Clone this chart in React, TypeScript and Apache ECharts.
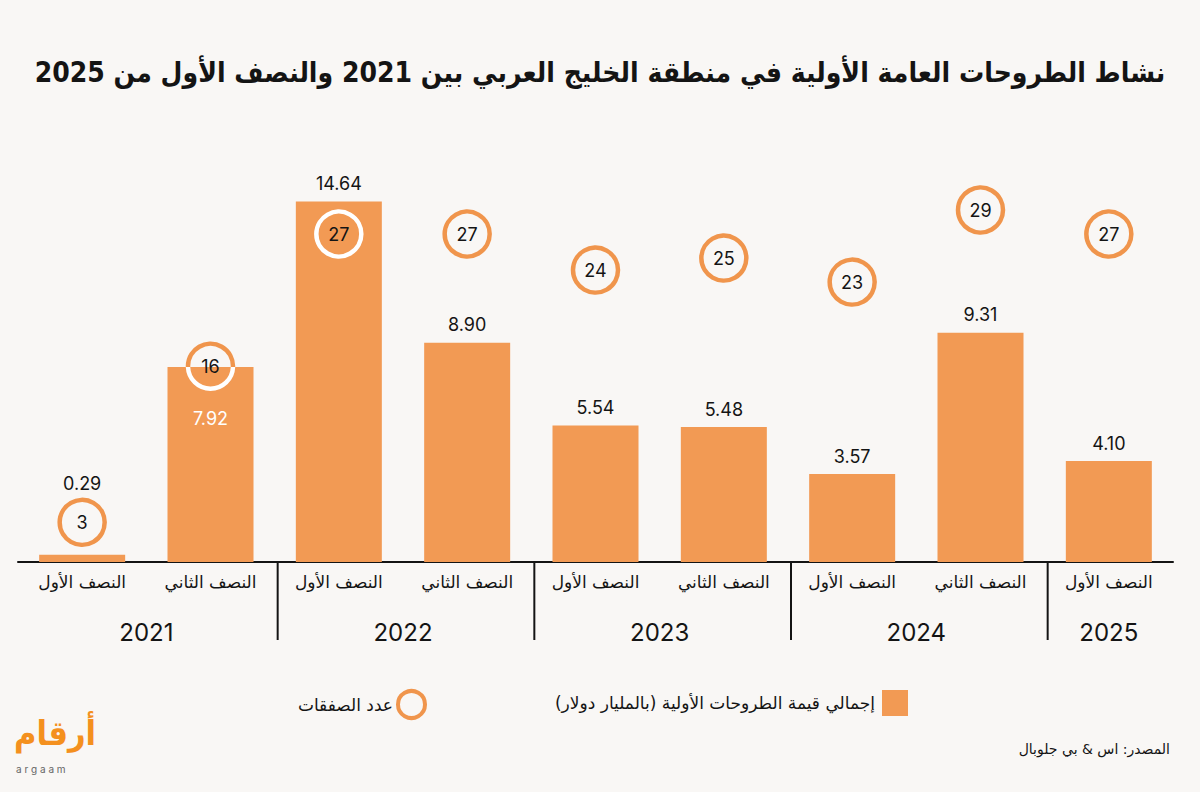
import React, { useEffect, useRef } from "react";
import * as echarts from "echarts";

const categories = ["2021-H1", "2021-H2", "2022-H1", "2022-H2", "2023-H1", "2023-H2", "2024-H1", "2024-H2", "2025-H1"];
const halfLabels = ["النصف الأول", "النصف الثاني", "النصف الأول", "النصف الثاني", "النصف الأول", "النصف الثاني", "النصف الأول", "النصف الثاني", "النصف الأول"];
const ipoValues = [0.29, 7.92, 14.64, 8.9, 5.54, 5.48, 3.57, 9.31, 4.1];
const dealCounts = [3, 16, 27, 27, 24, 25, 23, 29, 27];
const yearLabels = ["2021", "2022", "2023", "2024", "2025"];
const yearSpans = [[0, 1], [2, 3], [4, 5], [6, 7], [8, 8]];

const barName = "إجمالي قيمة الطروحات الأولية (بالمليار دولار)";
const dealName = "عدد الصفقات";
const titleText = "نشاط الطروحات العامة الأولية في منطقة الخليج العربي بين 2021 والنصف الأول من 2025";
const sourceText = "المصدر: اس & بي جلوبال";

const ORANGE = "#F29A54";
const RING = "#F0954C";
const BG = "#F9F7F5";
const INK = "#141414";
const AR = "'DejaVu Sans', sans-serif";
const ARC = "'DejaVu Sans Condensed', 'DejaVu Sans', sans-serif";
const NUM = "Inter, 'DejaVu Sans', sans-serif";

const Y0_MIN = 0, Y0_MAX = 16;
const Y1_MIN = -0.3, Y1_MAX = 32.5;
const RING_R = 22.5;
const RING_W = 4.5;

export default function App() {
  const ref = useRef<HTMLDivElement>(null);
  useEffect(() => {
    if (!ref.current) return;
    const chart = echarts.init(ref.current, null, { renderer: "svg" });
    const toAxis1 = (v: number) => Y1_MIN + ((v - Y0_MIN) / (Y0_MAX - Y0_MIN)) * (Y1_MAX - Y1_MIN);

    const option: any = {
      animation: false,
      backgroundColor: BG,
      title: {
        text: titleText,
        left: "center",
        top: 53,
        textStyle: { fontSize: 28, fontWeight: "bold", fontFamily: ARC, color: INK },
      },
      legend: [
        {
          data: [{ name: barName, icon: "rect" }],
          right: 287,
          top: 685,
          align: "right",
          itemWidth: 26,
          itemHeight: 26,
          itemGap: 0,
          textStyle: { fontSize: 17, fontFamily: AR, color: INK, padding: [0, 2, 0, 0] },
        },
        {
          data: [{ name: dealName, icon: "circle", itemStyle: { color: "transparent", borderColor: RING, borderWidth: 4 } }],
          right: 768,
          top: 684,
          align: "right",
          itemWidth: 27,
          itemHeight: 27,
          textStyle: { fontSize: 17, fontFamily: AR, color: INK },
        },
      ],
      grid: { left: 18, right: 27, top: 168, bottom: 230 },
      xAxis: {
        type: "category",
        data: categories,
        axisLine: { lineStyle: { color: INK, width: 2 } },
        axisTick: { show: false },
        axisLabel: {
          margin: 11,
          fontSize: 17,
          fontFamily: AR,
          color: INK,
          formatter: (_v: string, i: number) => halfLabels[i],
        },
      },
      yAxis: [
        { type: "value", min: Y0_MIN, max: Y0_MAX, show: false, splitLine: { show: false } },
        { type: "value", min: Y1_MIN, max: Y1_MAX, show: false, splitLine: { show: false } },
      ],
      series: [
        {
          name: barName,
          type: "bar",
          yAxisIndex: 0,
          barWidth: 86,
          z: 2,
          itemStyle: { color: ORANGE },
          label: {
            show: true,
            position: "top",
            distance: 9,
            fontSize: 18,
            fontFamily: NUM,
            color: INK,
            formatter: (p: any) => Number(p.value).toFixed(2),
          },
          data: ipoValues.map((v, i) => {
            if (i === 0) return { value: v, label: { distance: 62 } };
            if (i === 1) return { value: v, label: { position: "insideTop", distance: 43, color: "#ffffff" } };
            return v;
          }),
        },
        {
          name: dealName,
          type: "scatter",
          yAxisIndex: 1,
          symbol: "circle",
          symbolSize: RING_R * 2,
          z: 3,
          itemStyle: { color: "transparent", borderColor: RING, borderWidth: RING_W, opacity: 1 },
          label: {
            show: true,
            position: "inside",
            fontSize: 18,
            fontFamily: NUM,
            color: INK,
            formatter: (p: any) => String(p.value[1]),
          },
          data: dealCounts.map((c, i) => [i, c]),
        },
        {
          type: "custom",
          yAxisIndex: 1,
          silent: true,
          z: 5,
          data: dealCounts.map((c, i) => [i, c]),
          renderItem: (params: any, api: any) => {
            const i = api.value(0);
            const c = api.value(1);
            const center = api.coord([i, c]);
            const barTop = api.coord([i, toAxis1(ipoValues[i])])[1];
            const ratio = (barTop - center[1]) / RING_R;
            if (ratio >= 1) return { type: "group", children: [] };
            if (ratio <= -1) {
              return {
                type: "circle",
                shape: { cx: center[0], cy: center[1], r: RING_R },
                style: { fill: "none", stroke: "#ffffff", lineWidth: RING_W },
              };
            }
            const a = Math.asin(ratio);
            return {
              type: "arc",
              shape: { cx: center[0], cy: center[1], r: RING_R, startAngle: a, endAngle: Math.PI - a, clockwise: true },
              style: { fill: "none", stroke: "#ffffff", lineWidth: RING_W },
            };
          },
        },
        {
          type: "custom",
          yAxisIndex: 0,
          silent: true,
          clip: false,
          z: 4,
          data: yearSpans.map((s) => [s[0], s[1]]),
          renderItem: (params: any, api: any) => {
            const idx = params.dataIndex;
            const p0 = api.coord([api.value(0), 0]);
            const p1 = api.coord([api.value(1), 0]);
            const band = api.size([1, 0])[0];
            const cx = (p0[0] + p1[0]) / 2;
            const baseY = p0[1];
            const children: any[] = [
              {
                type: "text",
                x: cx,
                y: baseY + 70,
                style: {
                  text: yearLabels[idx],
                  fontSize: 24,
                  fontFamily: NUM,
                  fill: INK,
                  align: "center",
                  verticalAlign: "middle",
                },
              },
            ];
            if (idx < yearSpans.length - 1) {
              const lx = p1[0] + band / 2 + 3;
              children.push({
                type: "line",
                shape: { x1: lx, y1: baseY, x2: lx, y2: baseY + 78 },
                style: { stroke: INK, lineWidth: 2 },
              });
            }
            return { type: "group", children };
          },
        },
      ],
      graphic: [
        {
          type: "text",
          right: 30,
          top: 742,
          style: { text: sourceText, fontSize: 14, fontFamily: AR, fill: INK },
        },
        {
          type: "text",
          left: 14,
          top: 716,
          style: { text: "أرقام", fontSize: 34, fontWeight: "bold", fontFamily: ARC, fill: "#F4901E" },
        },
        {
          type: "text",
          left: 16,
          top: 764,
          style: { text: "a r g a a m", fontSize: 10, fontFamily: NUM, fill: "#666666" },
        },
      ],
    };
    chart.setOption(option);
    return () => chart.dispose();
  }, []);
  return <div ref={ref} style={{ position: "absolute", left: 0, top: 0, width: 1200, height: 792 }} />;
}
